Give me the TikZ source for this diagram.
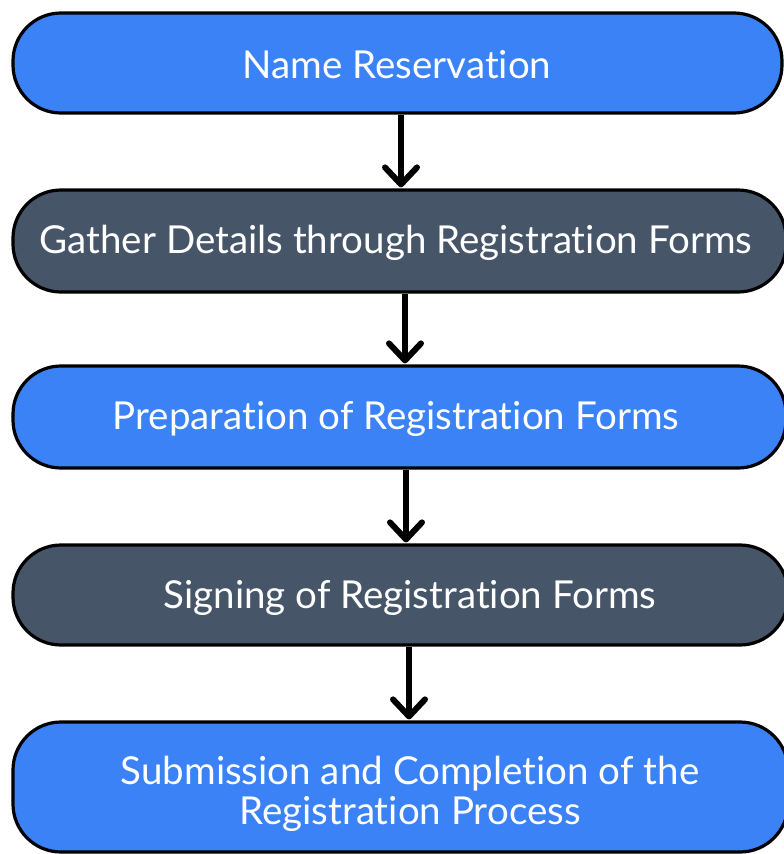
\documentclass[tikz,border=0pt]{standalone}
\usepackage{fontspec}
\setmainfont{Lato}[Ligatures={NoCommon,NoRare,NoContextual,NoRequired}]
\usetikzlibrary{arrows.meta}
\definecolor{boxblue}{HTML}{3B82F6}
\definecolor{boxslate}{HTML}{475569}
\newcommand{\tisep}{t\kern0pt i}
\tikzset{
  stagebox/.style={draw=black, line width=3.2pt, rounded corners=48pt, inner sep=0pt},
  bluebox/.style={stagebox, fill=boxblue},
  slatebox/.style={stagebox, fill=boxslate},
  lbl/.style={text=white, font=\fontsize{38.5}{40}\selectfont, align=center, inner sep=0pt},
  arr/.style={draw=black, line width=6pt, -{Straight Barb[length=17pt, width=32pt, round]}, shorten >=1pt}
}
\begin{document}
\begin{tikzpicture}[x=1pt, y=-1pt]
\useasboundingbox (0,0) rectangle (784,854);
\begin{scope}
\clip (0,0) rectangle (784,854);
\node[bluebox, minimum width=769pt, minimum height=100pt] (b1) at (397.5,63) {};
\node[slatebox, minimum width=773pt, minimum height=102pt] (b2) at (399.5,241) {};
\node[bluebox, minimum width=773pt, minimum height=102pt] (b3) at (399.5,417) {};
\node[slatebox, minimum width=775pt, minimum height=100pt] (b4) at (400.5,595) {};
\node[bluebox, minimum width=775pt, minimum height=130pt] (b5) at (400.5,787) {};
\end{scope}
\node[lbl] (t1) at (397,65) {Name Reserva\tisep on};
\node[lbl] (t2) at (396,243) {Gather Details through Registra\tisep on Forms};
\node[lbl] (t3) at (396,419) {Prepara\tisep on of Registra\tisep on Forms};
\node[lbl] (t4) at (410,598) {Signing of Registra\tisep on Forms};
\node[lbl] (t5) at (410,794) {Submission and Comple\tisep on of the\\Registra\tisep on Process};
\draw[arr] ([xshift=3.5pt]b1.south) -- ([xshift=1.5pt]b2.north);
\draw[arr] ([xshift=5.5pt]b2.south) -- ([xshift=5.5pt]b3.north);
\draw[arr] ([xshift=6.5pt]b3.south) -- ([xshift=5.5pt]b4.north);
\draw[arr] ([xshift=8.5pt]b4.south) -- ([xshift=8.5pt]b5.north);
\end{tikzpicture}
\end{document}
